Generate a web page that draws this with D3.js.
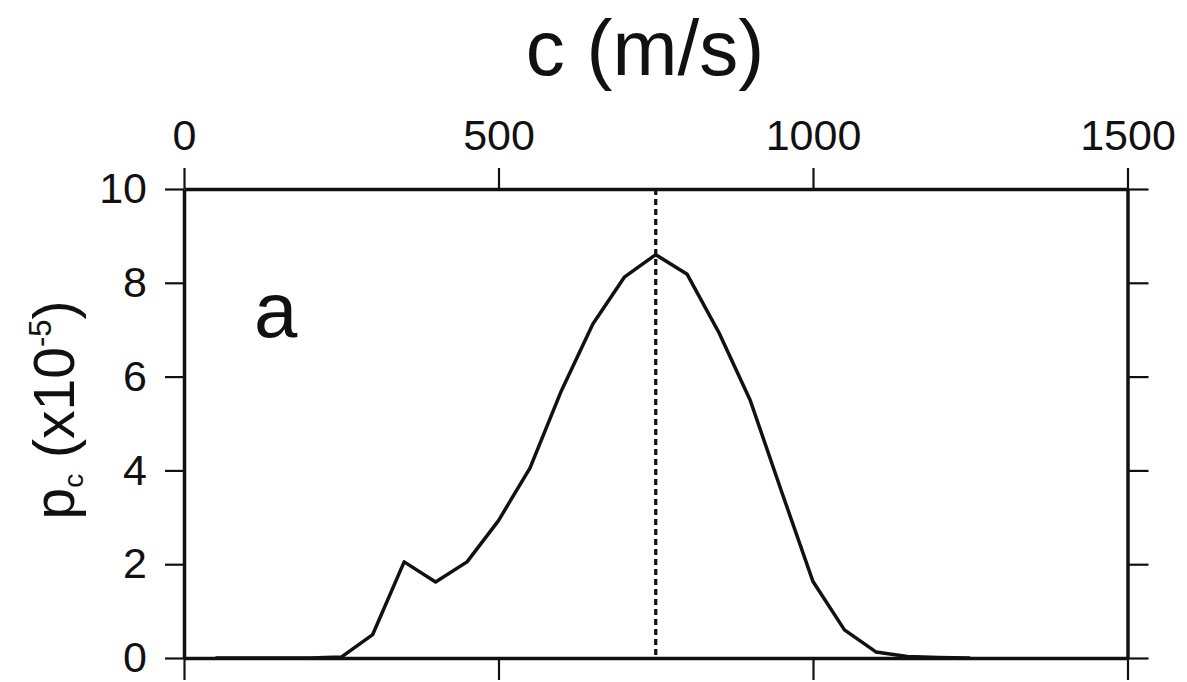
<!DOCTYPE html>
<html>
<head>
<meta charset="utf-8">
<script src="https://cdn.jsdelivr.net/npm/d3@7"></script>
<style>
  body { margin: 0; background: #fff; }
  text { font-family: "Liberation Sans", Arial, sans-serif; fill: #111; }
</style>
</head>
<body>
<div id="chart"></div>
<script>
// speed values (m/s) and probability density (x10^-5)
var cVals = [50, 100, 150, 200, 250, 300, 350, 400, 450, 500, 550, 600, 650,
             700, 750, 800, 850, 900, 950, 1000, 1050, 1100, 1150, 1200, 1250]
var pVals = [0, 0, 0, 0, 0.02, 0.5, 2.05, 1.62, 2.05, 2.93, 4.05, 5.7, 7.12,
             8.12, 8.6, 8.18, 6.95, 5.5, 3.55, 1.63, 0.6, 0.13, 0.03, 0.01, 0]
var xTicks = [0, 500, 1000, 1500]
var yTicks = [0, 2, 4, 6, 8, 10]
var cPeak = 750
var panelLabel = "a"

const width = 1187
const height = 682

// plot frame
const padding = { top: 189, right: 59.5, bottom: 24, left: 184 }
const plotW = width - padding.left - padding.right
const plotH = height - padding.top - padding.bottom

const xScale = d3.scaleLinear().domain([0, 1500]).range([0, plotW])
const yScale = d3.scaleLinear().domain([0, 10]).range([plotH, 0])

var svg = d3.select("#chart").append("svg")
  .attr("width", width)
  .attr("height", height)

var g = svg.append("g").attr("transform", "translate(" + padding.left + "," + padding.top + ")")

function styleAxis(sel){
  sel.select(".domain").attr("stroke", "#111").attr("stroke-width", 3.5)
  sel.selectAll(".tick line").attr("stroke", "#111").attr("stroke-width", 2.2)
  sel.selectAll(".tick text").style("font-size", "43px")
}

// top axis with labels
g.append("g")
  .call(d3.axisTop(xScale).tickValues(xTicks).tickSize(21).tickSizeOuter(0).tickPadding(18).tickFormat(d3.format("d")))
  .call(styleAxis)

// bottom axis, ticks only
g.append("g")
  .attr("transform", "translate(0," + plotH + ")")
  .call(d3.axisBottom(xScale).tickValues(xTicks).tickSize(22).tickSizeOuter(0).tickFormat(""))
  .call(styleAxis)

// left axis with labels
g.append("g")
  .call(d3.axisLeft(yScale).tickValues(yTicks).tickSize(19).tickSizeOuter(0).tickPadding(18))
  .call(styleAxis)

// right axis, ticks only
g.append("g")
  .attr("transform", "translate(" + plotW + ",0)")
  .call(d3.axisRight(yScale).tickValues(yTicks).tickSize(21).tickSizeOuter(0).tickFormat(""))
  .call(styleAxis)

// peak marker
g.append("line")
  .attr("x1", xScale(cPeak)).attr("x2", xScale(cPeak))
  .attr("y1", yScale(10)).attr("y2", yScale(0))
  .attr("stroke", "#111")
  .attr("stroke-width", 3.2)
  .attr("stroke-dasharray", "6,4")

var line = d3.line()
  .x(function(d, i){ return xScale(cVals[i]) })
  .y(function(d){ return yScale(d) })

g.append("path")
  .datum(pVals)
  .attr("fill", "none")
  .attr("stroke", "#111")
  .attr("stroke-width", 3.5)
  .attr("stroke-linejoin", "round")
  .attr("d", line)

// panel letter
g.append("text")
  .attr("x", 70)
  .attr("y", 148)
  .style("font-size", "78px")
  .text(panelLabel)

// x title on top
svg.append("text")
  .attr("x", 645)
  .attr("y", 75)
  .attr("text-anchor", "middle")
  .style("font-size", "78px")
  .text("c (m/s)")

// y title
var yt = svg.append("text")
  .attr("transform", "translate(74," + 410 + ") rotate(-90)")
  .attr("text-anchor", "middle")
  .style("font-size", "57px")
yt.append("tspan").text("p")
yt.append("tspan").attr("dy", 9).style("font-size", "28px").text("c")
yt.append("tspan").attr("dy", -9).text(" (x10")
yt.append("tspan").attr("dy", -23).style("font-size", "31px").text("-5")
yt.append("tspan").attr("dy", 23).text(")")
</script>
</body>
</html>
